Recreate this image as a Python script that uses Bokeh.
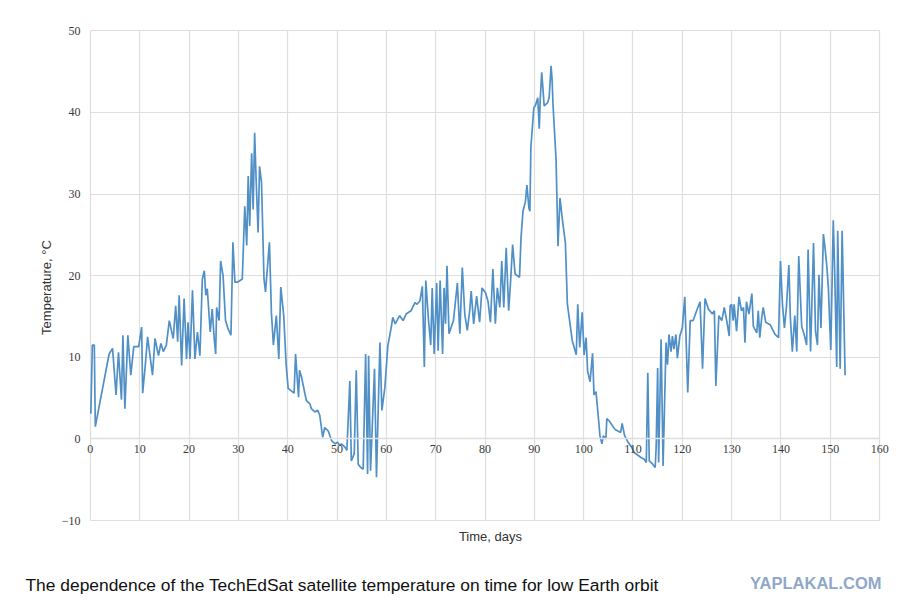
from bokeh.plotting import figure
from bokeh.models import Label, FixedTicker, Range1d
from bokeh.layouts import column
from bokeh.embed import file_html
from bokeh.resources import INLINE

# ---- data ----
days = [0.1, 0.4, 0.8, 1.0, 3.8, 4.5, 5.2, 5.7, 6.3, 6.6, 7.0, 7.6, 8.2, 8.8, 9.8,
        10.4, 10.6, 11.1, 11.6, 12.6, 13.1, 13.8, 14.3, 14.8, 15.4, 16.0, 16.5, 16.8,
        17.3, 17.7, 18.0, 18.5, 19.0, 19.5, 19.8, 20.2, 20.7, 21.2, 21.7, 22.2, 22.7,
        23.1, 23.4, 23.7, 24.3, 24.7, 25.1, 25.4, 25.6, 26.1, 26.4, 26.9, 27.4, 27.9,
        28.5, 28.9, 29.3, 29.8, 30.8, 31.3, 31.7, 32.0, 32.3, 32.7, 33.0, 33.3, 33.6,
        34.0, 34.3, 34.7, 35.2, 35.5, 36.3, 36.7, 37.1, 37.7, 38.2, 38.6, 39.2, 39.7,
        40.1, 41.3, 41.6, 42.2, 42.4, 42.8, 43.5, 43.8, 44.5, 44.8, 45.5, 46.1, 46.5,
        47.1, 47.5, 48.2, 48.9, 49.6, 50.1, 50.6, 50.9, 51.6, 52.0, 52.6, 52.9, 53.5,
        53.9, 54.3, 54.8, 55.3, 55.8, 56.2, 56.4, 56.8, 57.6, 58.0, 58.7, 59.1, 59.7,
        60.3, 61.0, 61.3, 61.8, 62.7, 63.4, 64.0, 65.0, 65.8, 66.2, 66.8, 67.3, 67.7,
        68.0, 68.5, 69.0, 69.3, 69.7, 70.2, 70.5, 70.9, 71.4, 71.7, 72.0, 72.3, 72.7,
        73.6, 74.4, 74.9, 75.4, 75.9, 76.4, 76.9, 77.2, 77.7, 78.3, 78.9, 79.4, 80.1,
        80.6, 81.1, 81.6, 82.1, 82.5, 83.0, 83.4, 83.8, 84.3, 84.8, 85.2, 85.6, 86.1,
        87.0, 87.3, 87.7, 88.2, 88.5, 88.9, 89.1, 89.3, 89.9, 90.2, 90.7, 91.0, 91.2,
        91.5, 92.0, 92.7, 93.0, 93.4, 93.6, 93.8, 94.4, 94.8, 95.2, 95.7, 96.3, 96.7,
        97.7, 98.5, 98.8, 99.2, 99.7, 100.1, 100.5, 100.8, 101.3, 101.8, 102.1, 102.5,
        103.0, 103.3, 103.7, 104.0, 104.5, 104.7, 105.3, 106.3, 107.5, 107.8, 108.3,
        109.0, 109.7, 110.3, 111.7, 112.3, 112.7, 113.0, 113.3, 114.0, 114.5, 114.7,
        115.0, 115.2, 115.7, 116.1, 116.7, 117.0, 117.3, 117.7, 118.0, 118.3, 118.7,
        119.0, 119.5, 120.0, 120.5, 121.1, 121.6, 122.2, 122.9, 123.6, 124.1, 124.6,
        125.3, 126.1, 126.5, 126.8, 127.4, 128.0, 128.5, 129.0, 129.5, 129.7, 130.0,
        130.3, 130.5, 131.0, 131.5, 132.0, 132.4, 132.7, 133.0, 133.5, 134.1, 134.4,
        135.1, 135.4, 135.7, 136.1, 136.4, 136.9, 137.8, 138.8, 139.5, 139.9, 140.3,
        140.7, 141.1, 141.6, 141.9, 142.3, 142.8, 143.2, 143.6, 144.2, 144.7, 145.2,
        145.5, 146.0, 146.6, 147.0, 147.4, 147.7, 148.1, 148.6, 148.9, 149.3, 149.6,
        150.1, 150.6, 150.9, 151.3, 151.5, 152.0, 152.4, 153.0]

temps = [3.1, 11.5, 11.5, 1.5, 10.4, 11.1, 5.4, 10.6, 4.8, 12.7, 3.7, 12.7, 7.8, 11.3, 11.3,
         13.7, 5.6, 8.8, 12.5, 7.8, 12.3, 10.2, 11.7, 10.7, 11.5, 14.5, 13.1, 12.3,
         16.3, 11.9, 17.6, 9.0, 17.2, 9.8, 14.3, 9.8, 18.2, 9.8, 13.1, 10.2, 19.6,
         20.6, 17.6, 18.4, 13.1, 15.9, 12.3, 10.4, 16.1, 14.5, 21.8, 20.0, 14.5, 13.5,
         12.7, 24.1, 19.2, 19.2, 19.6, 28.5, 23.7, 32.2, 26.1, 35.0, 28.1, 37.5, 31.8,
         25.3, 33.4, 31.4, 19.6, 18.0, 24.1, 15.5, 11.5, 15.1, 9.8, 18.6, 15.1, 9.0,
         6.2, 5.6, 10.4, 5.1, 8.4, 7.6, 5.5, 4.7, 4.3, 3.7, 3.3, 3.5, 2.9,
         0.2, 1.4, 1.0, -0.2, -0.6, -0.4, -0.8, -0.6, -1.0, -1.4, 7.1, -2.7, -1.8,
         8.4, -3.1, -3.5, -3.7, 10.4, -4.3, 10.2, -3.9, 8.6, -4.7, 11.8, 3.5, 6.3,
         11.4, 13.7, 14.9, 14.1, 15.1, 14.5, 15.3, 15.7, 16.7, 16.5, 16.9, 18.7, 8.8,
         19.4, 14.9, 11.5, 18.5, 10.4, 19.1, 10.8, 19.4, 10.4, 18.5, 14.1, 21.2, 12.9,
         14.5, 19.1, 12.9, 21.0, 15.3, 13.3, 15.7, 18.1, 14.1, 17.5, 14.3, 18.5, 17.9,
         16.9, 14.3, 20.8, 14.1, 18.5, 16.1, 21.8, 16.1, 23.4, 15.7, 19.4, 23.8, 20.2,
         19.8, 24.6, 27.9, 29.1, 31.1, 28.3, 27.9, 35.7, 40.6, 40.8, 41.8, 38.0, 41.6,
         44.9, 40.8, 41.2, 41.8, 45.7, 44.0, 40.8, 34.3, 23.6, 29.5, 26.8, 24.0, 16.5,
         12.0, 10.3, 16.5, 11.2, 15.5, 10.3, 12.4, 8.3, 7.0, 10.5, 5.4, 5.8,
         2.5, 0.4, -0.6, 0.4, 0.0, 2.5, 2.1, 1.2, 0.8, 1.9, 0.4,
         -0.4, -1.0, -1.7, -2.3, -2.5, -2.9, 8.1, -2.7, -3.1, -3.5, -1.0,
         8.7, -2.9, 12.2, -3.3, 11.8, 9.1, 12.8, 10.7, 12.6, 11.0, 12.8,
         9.9, 12.6, 13.6, 17.4, 5.7, 14.5, 14.5, 15.7, 16.8, 8.6, 17.2,
         15.9, 15.3, 15.7, 6.5, 15.1, 14.5, 16.1, 14.5, 12.6, 16.3, 16.5,
         14.5, 16.5, 13.2, 17.4, 15.7, 16.1, 11.8, 16.8, 15.3, 17.8, 13.8,
         13.0, 15.7, 12.4, 14.9, 16.1, 14.3, 14.0, 12.8, 12.4, 21.8, 16.5,
         13.6, 16.1, 21.3, 14.9, 10.7, 15.1, 10.7, 22.4, 13.8, 12.8, 11.5,
         23.2, 10.7, 24.0, 13.2, 11.5, 20.1, 13.6, 25.1, 23.6, 21.1, 18.6,
         10.9, 26.8, 20.3, 8.8, 25.5, 8.6, 25.5, 7.8]

x_ticks = [0, 10, 20, 30, 40, 50, 60, 70, 80, 90, 100, 110, 120, 130, 140, 150, 160]
y_ticks = [-10, 0, 10, 20, 30, 40, 50]

x_title = "Time, days"
y_title = "Temperature, °C"
caption = "The dependence of the TechEdSat satellite temperature on time for low Earth orbit"
watermark = "YAPLAKAL.COM"

GRID = "#dedede"
LINE = "#5090c6"

p = figure(width=900, height=572, output_backend="svg", toolbar_location=None,
           x_range=Range1d(-2, 162), y_range=Range1d(-13.3, 50.4),
           min_border_left=80, min_border_right=11, min_border_top=27,
           min_border_bottom=25)
p.background_fill_color = "white"
p.border_fill_color = "white"
p.outline_line_color = None

p.line(days, temps, line_color=LINE, line_width=1.7)

# axes
p.xaxis.ticker = FixedTicker(ticks=x_ticks)
p.yaxis.ticker = FixedTicker(ticks=y_ticks)
p.xaxis.fixed_location = 0
p.xaxis.bounds = (0, 160)
for ax in (p.xaxis[0], p.yaxis[0]):
    ax.major_tick_in = 0
    ax.major_tick_out = 0
    ax.minor_tick_in = 0
    ax.minor_tick_out = 0
    ax.major_label_text_font = "Liberation Serif"
    ax.major_label_text_font_size = "12px"
    ax.major_label_text_color = "#3a3a3a"
p.xaxis.axis_line_color = GRID
p.xaxis.axis_line_width = 1.5
p.yaxis.axis_line_color = None
p.xaxis.major_label_standoff = 6
p.yaxis.major_label_standoff = 0
p.yaxis.axis_label = y_title
p.yaxis.axis_label_text_font = "Liberation Sans"
p.yaxis.axis_label_text_font_style = "normal"
p.yaxis.axis_label_text_font_size = "13px"
p.yaxis.axis_label_text_color = "#333333"
p.yaxis.axis_label_standoff = 5

p.xgrid.ticker = FixedTicker(ticks=x_ticks)
p.ygrid.ticker = FixedTicker(ticks=y_ticks)
p.xgrid.bounds = (0, 160)
p.ygrid.bounds = (-10, 50)
p.xgrid.cross_bounds = (-10, 50)
p.ygrid.cross_bounds = (0, 160)
p.grid.grid_line_color = GRID
p.grid.grid_line_width = 1.2

p.add_layout(Label(x=81.1, y=-11.95, text=x_title,
                   text_align="center", text_baseline="middle",
                   text_font="Liberation Sans", text_font_size="13px",
                   text_color="#333333"))

# caption strip below the chart
cap = figure(width=900, height=34, output_backend="svg", toolbar_location=None,
             x_range=Range1d(0, 900), y_range=Range1d(34, 0),
             x_axis_location=None, y_axis_location=None,
             min_border_left=0, min_border_right=0, min_border_top=0,
             min_border_bottom=0)
cap.frame_align = False
cap.grid.visible = False
cap.outline_line_color = None
cap.background_fill_color = "white"
cap.border_fill_color = "white"
cap.add_layout(Label(x=25, y=12, text=caption, text_align="left",
                     text_baseline="middle", text_font="Liberation Sans",
                     text_font_size="17.4px", text_color="#111111"))
cap.add_layout(Label(x=881, y=10, text=watermark, text_align="right",
                     text_baseline="middle", text_font="Liberation Sans",
                     text_font_style="bold", text_font_size="16.5px",
                     text_color="#8fa8c9"))

layout = column(p, cap, spacing=0)
open("out.html", "w").write(file_html(layout, INLINE))
